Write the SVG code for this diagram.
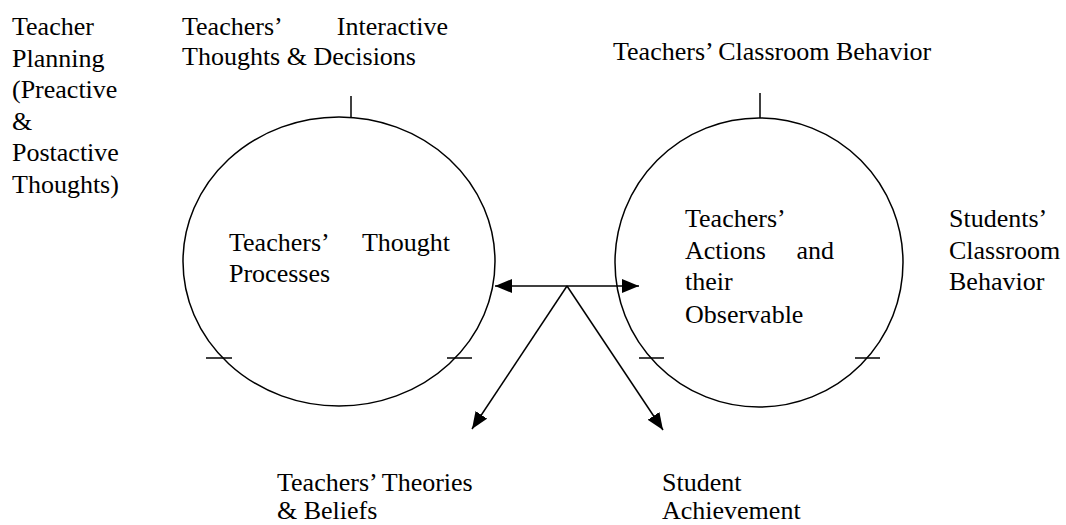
<svg xmlns="http://www.w3.org/2000/svg" width="1066" height="525" viewBox="0 0 1066 525">
<style>
text{font-family:"Liberation Serif","Times New Roman",serif;font-size:26px;fill:#000}
.s{fill:none;stroke:#000;stroke-width:1.5}
</style>
<defs>
<marker id="ah" markerUnits="userSpaceOnUse" markerWidth="18" markerHeight="14" refX="17" refY="7" orient="auto-start-reverse">
<path d="M0,0 L17,7 L0,14 z" fill="#000"/>
</marker>
</defs>
<rect width="1066" height="525" fill="#fff"/>
<g id="planning">
<text x="12" y="35">Teacher</text>
<text x="12" y="66.5">Planning</text>
<text x="12" y="98">(Preactive</text>
<text x="12" y="129.5">&amp;</text>
<text x="12" y="161">Postactive</text>
<text x="12" y="192.5">Thoughts)</text>
</g>
<g id="interactive">
<text x="182" y="35">Teachers’</text>
<text x="448" y="35" text-anchor="end">Interactive</text>
<text x="182" y="65">Thoughts &amp; Decisions</text>
</g>
<g id="classroom-behavior">
<text x="613" y="60">Teachers’ Classroom Behavior</text>
</g>
<g id="thought-processes">
<ellipse class="s" cx="339" cy="261.5" rx="156" ry="144.5"/>
<line class="s" x1="351" y1="96" x2="351" y2="117"/>
<line class="s" x1="206" y1="358" x2="232" y2="358"/>
<line class="s" x1="447" y1="358" x2="472" y2="358"/>
<text x="229" y="251">Teachers’</text>
<text x="450" y="251" text-anchor="end">Thought</text>
<text x="229" y="282">Processes</text>
</g>
<g id="actions">
<ellipse class="s" cx="759" cy="262.5" rx="144" ry="144.5"/>
<line class="s" x1="760" y1="93" x2="760" y2="118"/>
<line class="s" x1="639" y1="358" x2="664" y2="358"/>
<line class="s" x1="855" y1="358" x2="880" y2="358"/>
<text x="685" y="227">Teachers’</text>
<text x="685" y="259">Actions</text>
<text x="834" y="259" text-anchor="end">and</text>
<text x="685" y="290">their</text>
<text x="685" y="323">Observable</text>
</g>
<g id="students-behavior">
<text x="949" y="227">Students’</text>
<text x="949" y="259">Classroom</text>
<text x="949" y="290">Behavior</text>
</g>
<g id="theories">
<text x="277" y="491">Teachers’ Theories</text>
<text x="277" y="519">&amp; Beliefs</text>
</g>
<g id="achievement">
<text x="662" y="491">Student</text>
<text x="662" y="519">Achievement</text>
</g>
<g id="connectors">
<line class="s" x1="495" y1="286" x2="639" y2="286" marker-start="url(#ah)" marker-end="url(#ah)"/>
<line class="s" x1="567" y1="286" x2="472" y2="429" marker-end="url(#ah)"/>
<line class="s" x1="567" y1="286" x2="663" y2="430" marker-end="url(#ah)"/>
</g>
</svg>
